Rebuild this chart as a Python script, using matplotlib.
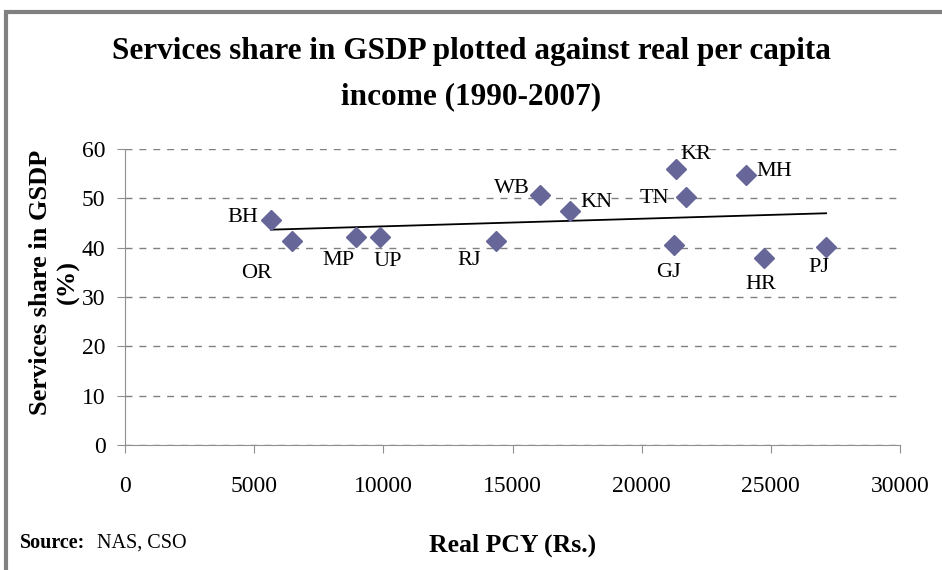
import matplotlib
matplotlib.use("Agg")
import matplotlib.pyplot as plt
from matplotlib.patches import Rectangle
import numpy as np

plt.rcParams['font.family'] = ['Liberation Serif', 'DejaVu Serif']

# data
states = ["BH", "OR", "MP", "UP", "RJ", "WB", "KN", "KR", "MH", "TN", "GJ", "HR", "PJ"]
pcy = [5650, 6450, 8930, 9870, 14360, 16070, 17230, 21320, 24030, 21720, 21240, 24720, 27140]
services_share = [45.7, 41.3, 42.1, 42.1, 41.3, 50.6, 47.4, 55.9, 54.7, 50.2, 40.5, 38.0, 40.1]

# label offsets in pixels (dx, dy up)
label_offsets = [(-28, 2), (-35, -32), (-17, -23), (8, -24), (-27, -19), (-28, 7), (26, 9),
                 (20, 15), (28, 4), (-32, -1), (-5, -27), (-3, -27), (-7, -20)]

fig = plt.figure(figsize=(9.42, 5.7), dpi=100)
ax = fig.add_axes([125 / 942, 1 - 445 / 570, 775 / 942, 296 / 570])

ax.set_xlim(0, 30000)
ax.set_ylim(0, 60)
ax.set_xticks(np.arange(0, 30001, 5000))
ax.set_yticks(np.arange(0, 61, 10))
ax.yaxis.grid(True, linestyle=(0, (5, 5)), color="#808080", linewidth=1)
ax.set_axisbelow(True)

for side in ["top", "right"]:
    ax.spines[side].set_visible(False)
for side in ["left", "bottom"]:
    ax.spines[side].set_color("#909090")
ax.tick_params(axis="both", colors="#909090", labelcolor="black", labelsize=17, length=6)
ax.tick_params(axis="x", pad=16)
ax.tick_params(axis="y", pad=8)

# linear trend line
x = np.array(pcy)
y = np.array(services_share)
b, a = np.polyfit(x, y, 1)
xs = np.array([x.min(), x.max()])
ax.plot(xs, a + b * xs, color="black", linewidth=1.3, zorder=2)

ax.plot(pcy, services_share, linestyle="none", marker="D", markersize=10.5,
        color="#666699", zorder=3)

px = 72 / 100
for name, xi, yi, (dx, dy) in zip(states, pcy, services_share, label_offsets):
    ax.annotate(name, (xi, yi), xytext=(dx * px, dy * px), textcoords="offset points",
                ha="center", va="center", fontsize=16, zorder=4)

fig.text(0.5, 1 - 52 / 570, "Services share in GSDP plotted against real per capita",
         ha="center", va="center", fontsize=22.5, fontweight="bold")
fig.text(0.5, 1 - 97 / 570, "income (1990-2007)",
         ha="center", va="center", fontsize=22.5, fontweight="bold")

fig.text(54 / 942, 1 - 282 / 570, "Services share in GSDP\n(%)", rotation=90,
         ha="center", va="center", fontsize=19, fontweight="bold", linespacing=1.25)
fig.text(513 / 942, 1 - 545 / 570, "Real PCY (Rs.)", ha="center", va="center",
         fontsize=18.5, fontweight="bold")
fig.text(20 / 942, 1 - 543 / 570, "Source:", ha="left", va="center",
         fontsize=14.5, fontweight="bold")
fig.text(97 / 942, 1 - 543 / 570, "NAS, CSO", ha="left", va="center", fontsize=14.5)

# chart border (only top and left visible)
fig.patches.append(Rectangle((6 / 942, -0.1), 1.2, 1 - 12 / 570 + 0.1,
                             transform=fig.transFigure, fill=False,
                             edgecolor="#808080", linewidth=3))

fig.savefig("out.png", dpi=100)
